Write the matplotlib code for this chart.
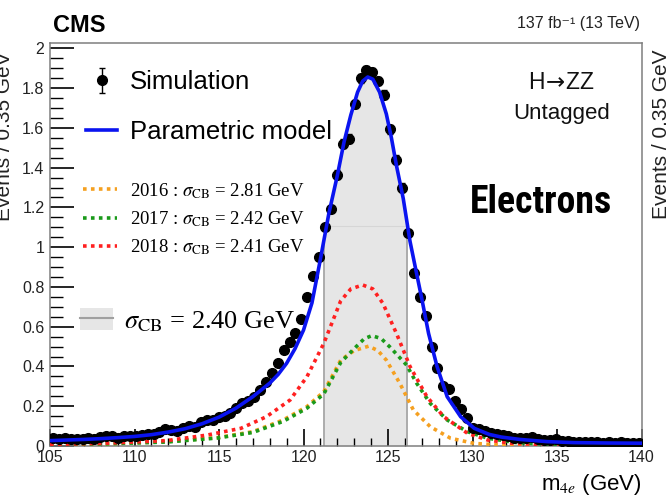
import numpy as np
import matplotlib.pyplot as plt
from matplotlib import font_manager
from matplotlib.lines import Line2D
from matplotlib.patches import Patch
from matplotlib.ticker import MultipleLocator, AutoMinorLocator

plt.rcParams['font.family'] = ['Liberation Sans', 'DejaVu Sans']
plt.rcParams['mathtext.fontset'] = 'stix'

# simulated events per 0.35 GeV bin, 105-140 GeV
sim_y = [0.040, 0.035, 0.040, 0.033, 0.035, 0.037, 0.038, 0.036, 0.045, 0.050,
         0.050, 0.042, 0.048, 0.050, 0.052, 0.056, 0.062, 0.058, 0.068, 0.083,
         0.078, 0.075, 0.090, 0.100, 0.098, 0.120, 0.130, 0.132, 0.145, 0.150,
         0.168, 0.190, 0.214, 0.226, 0.248, 0.280, 0.323, 0.368, 0.415, 0.482,
         0.524, 0.566, 0.640, 0.750, 0.854, 0.950, 1.100, 1.190, 1.365, 1.520,
         1.546, 1.720, 1.850, 1.890, 1.880, 1.836, 1.767, 1.593, 1.440, 1.300,
         1.070, 0.868, 0.747, 0.655, 0.499, 0.394, 0.301, 0.285, 0.226, 0.184,
         0.139, 0.092, 0.084, 0.077, 0.066, 0.060, 0.055, 0.048, 0.040, 0.038,
         0.042, 0.047, 0.035, 0.030, 0.028, 0.033, 0.025, 0.023, 0.022, 0.020,
         0.021, 0.018, 0.020, 0.017, 0.019, 0.016, 0.018, 0.015, 0.016, 0.015]
sim_err = [0.005] * 20 + [0.007] * 15 + [0.010] * 8 + [0.015] * 5 + [0.022] * 12 + \
          [0.015] * 5 + [0.010] * 5 + [0.006] * 10 + [0.004] * 20
bin_edges = np.arange(105, 140.001, 0.35)
mass = 0.5 * (bin_edges[:-1] + bin_edges[1:])

# parametric model
model_x = [105.0, 106.0, 107.0, 108.0, 109.0, 110.0, 111.0, 112.0, 113.0, 114.0,
           115.0, 116.0, 117.0, 118.0, 118.5, 119.0, 119.5, 120.0, 120.5, 121.0,
           121.5, 122.0, 122.4, 122.8, 123.2, 123.5, 123.8, 124.1, 124.5, 124.9,
           125.2, 125.5, 125.9, 126.3, 126.6, 127.0, 127.4, 127.9, 128.5, 129.3,
           130.1, 130.5, 131.0, 131.7, 132.8, 134.4, 136.0, 138.0, 140.0]
model_y = [0.027, 0.030, 0.033, 0.037, 0.042, 0.048, 0.057, 0.070, 0.087, 0.112,
           0.145, 0.190, 0.248, 0.316, 0.360, 0.416, 0.490, 0.583, 0.720, 0.940,
           1.170, 1.360, 1.530, 1.665, 1.780, 1.835, 1.856, 1.845, 1.780, 1.670,
           1.550, 1.410, 1.245, 1.030, 0.905, 0.740, 0.566, 0.400, 0.248, 0.147,
           0.089, 0.075, 0.058, 0.045, 0.033, 0.022, 0.017, 0.015, 0.014]

# per-year components
red_x = [105.0, 108.0, 111.9, 114.3, 116.3, 117.8, 119.2, 120.2, 121.2, 122.2,
         122.8, 123.5, 124.1, 124.7, 125.5, 126.3, 127.3, 128.3, 129.7, 130.9,
         132.4, 135.0, 140.0]
red_y = [0.008, 0.013, 0.027, 0.055, 0.089, 0.147, 0.231, 0.348, 0.516, 0.730,
         0.790, 0.810, 0.790, 0.717, 0.566, 0.400, 0.248, 0.147, 0.064, 0.030,
         0.013, 0.005, 0.002]
green_x = [105.0, 108.0, 111.9, 114.9, 117.0, 118.8, 120.2, 121.2, 122.2, 123.0,
           123.6, 124.05, 124.6, 125.1, 126.1, 126.7, 127.5, 128.5, 129.7, 130.9,
           132.6, 135.0, 140.0]
green_y = [0.006, 0.010, 0.020, 0.040, 0.068, 0.124, 0.190, 0.262, 0.420, 0.490,
           0.540, 0.555, 0.540, 0.499, 0.407, 0.315, 0.214, 0.131, 0.072, 0.039,
           0.017, 0.006, 0.002]
orange_x = [105.0, 108.0, 111.9, 114.9, 117.0, 118.8, 120.2, 121.2, 122.2, 123.0,
            123.85, 124.4, 124.9, 125.7, 126.5, 127.5, 128.7, 130.1, 131.6, 135.0,
            140.0]
orange_y = [0.006, 0.010, 0.022, 0.042, 0.072, 0.131, 0.198, 0.273, 0.432, 0.480,
            0.502, 0.480, 0.432, 0.315, 0.181, 0.097, 0.039, 0.013, 0.005, 0.002,
            0.001]

band_lo, band_hi = 121.22, 126.12
band_line = 1.107


def narrow_font():
    # pick a condensed bold face if one is installed
    for fam in ['Liberation Sans Narrow', 'Roboto Condensed', 'Open Sans Condensed',
                'DejaVu Sans Condensed', 'Noto Sans Condensed']:
        try:
            font_manager.findfont(font_manager.FontProperties(family=fam, weight='bold'),
                                  fallback_to_default=False)
            return {'family': fam, 'stretch': 'normal'}
        except ValueError:
            pass
    for fam in ['DejaVu Sans', 'Noto Sans', 'Open Sans', 'Roboto']:
        p = font_manager.findfont(font_manager.FontProperties(
            family=fam, weight='bold', stretch='condensed'))
        if 'ondensed' in p or 'arrow' in p:
            return {'family': fam, 'stretch': 'condensed'}
    return {'family': 'Roboto', 'stretch': 'normal'}


fig = plt.figure(figsize=(6.67, 5.04), dpi=100)
ax = fig.add_axes([0.075, 0.1151, 0.8868, 0.7996])

# grey band under the model
bx = np.concatenate([[band_lo], [v for v in model_x if band_lo < v < band_hi], [band_hi]])
by = np.interp(bx, model_x, model_y)
ax.fill_between(bx, 0, by, color='#e6e6e6', lw=0, zorder=1)
ax.plot([band_lo, band_lo], [0, by[0]], color='#a6a6a6', lw=1.3, zorder=2)
ax.plot([band_hi, band_hi], [0, by[-1]], color='#a6a6a6', lw=1.3, zorder=2)
ax.plot([band_lo, band_hi], [band_line, band_line], color='#d6d6d6', lw=0.8, zorder=2)

ax.plot(orange_x, orange_y, color='#f5a020', lw=2.6, ls=(0, (1, 1.2)), zorder=3)
ax.plot(green_x, green_y, color='#1a9a1a', lw=2.6, ls=(0, (1, 1.2)), zorder=3)
ax.plot(red_x, red_y, color='#ff2020', lw=2.6, ls=(0, (1, 1.2)), zorder=3)

sim = ax.errorbar(mass, sim_y, yerr=sim_err, fmt='o', color='black', ms=7,
                  elinewidth=1, capsize=2, zorder=4)
model, = ax.plot(model_x, model_y, color='#0a14f0', lw=2.6, zorder=5)

ax.set_xlim(105, 140)
ax.set_ylim(0, 2.027)
ax.xaxis.set_major_locator(MultipleLocator(5))
ax.xaxis.set_minor_locator(MultipleLocator(1))
ax.set_yticks([0, 0.2, 0.4, 0.6, 0.8, 1, 1.2, 1.4, 1.6, 1.8, 2])
ax.set_yticklabels(['0', '0.2', '0.4', '0.6', '0.8', '1', '1.2', '1.4', '1.6', '1.8', '2'])
ax.yaxis.set_minor_locator(AutoMinorLocator(4))
ax.tick_params(which='both', direction='in', top=False, right=False, labelsize=11.5,
               colors='black', labelcolor='#222222')
ax.tick_params(axis='y', which='major', length=17, width=1.2, pad=4)
ax.tick_params(axis='y', which='minor', length=9, width=1)
ax.tick_params(axis='x', which='major', length=12, width=1.2, pad=3)
ax.tick_params(axis='x', which='minor', length=6, width=1)
for s in ax.spines.values():
    s.set_color('#7f7f7f')
    s.set_linewidth(1.1)

ax.set_xlabel(r'm$_{4\mathit{e}}$ (GeV)', fontsize=16, loc='right', labelpad=5)

# legends
leg1 = ax.legend([sim, model], ['Simulation', 'Parametric model'],
                 loc='upper left', bbox_to_anchor=(0.061, 0.932), frameon=False,
                 fontsize=18.5, handlelength=1.2, handletextpad=0.5,
                 labelspacing=1.0, borderpad=0, borderaxespad=0)
ax.add_artist(leg1)
yr_handles = [Line2D([], [], color=c, lw=2.6, ls=(0, (1, 1.2)))
              for c in ['#f5a020', '#1a9a1a', '#ff2020']]
yr_labels = [r'2016 : $\sigma_{\mathrm{CB}}$ = 2.81 GeV',
             r'2017 : $\sigma_{\mathrm{CB}}$ = 2.42 GeV',
             r'2018 : $\sigma_{\mathrm{CB}}$ = 2.41 GeV']
leg2 = ax.legend(yr_handles, yr_labels, loc='upper left',
                 bbox_to_anchor=(0.0558, 0.658), frameon=False,
                 prop={'family': 'Liberation Serif', 'size': 13.5},
                 handlelength=1.8, handletextpad=0.7, labelspacing=0.46,
                 borderpad=0, borderaxespad=0)
ax.add_artist(leg2)
band_handle = (Patch(facecolor='#e6e6e6', edgecolor='none'),
               Line2D([], [], color='#a0a0a0', lw=1.5))
ax.legend([band_handle], [r'$\sigma_{\mathrm{CB}}$ = 2.40 GeV'], loc='upper left',
          bbox_to_anchor=(0.0507, 0.342), frameon=False,
          prop={'family': 'Liberation Serif', 'size': 19},
          handlelength=1.25, handleheight=0.9, handletextpad=0.4,
          borderpad=0, borderaxespad=0)

ax.text(0.865, 0.903, r'H$\!\rightarrow\!$ZZ', transform=ax.transAxes, ha='center',
        va='center', fontsize=16.5, color='#111111', math_fontfamily='dejavusans')
ax.text(0.865, 0.826, 'Untagged', transform=ax.transAxes, ha='center', va='center',
        fontsize=16, color='#111111')
nf = narrow_font()
elec = ax.text(0.83, 0.605, 'Electrons', transform=ax.transAxes, ha='center',
               va='center', fontsize=30, fontweight='bold', family=nf['family'],
               fontstretch=nf['stretch'])
# keep the label about as wide as in the reference (~140 px)
r = fig.canvas.get_renderer()
w = elec.get_window_extent(r).width
if w > 142:
    elec.set_fontsize(30 * 142 / w)

fig.text(53 / 667, 1 - 32 / 504, 'CMS', fontsize=17, fontweight='bold', ha='left',
         va='baseline')
fig.text(640 / 667, 1 - 28 / 504, '137 fb\u207b\u00b9 (13 TeV)', fontsize=11.5,
         ha='right', va='baseline', color='#222222')
fig.text(4.5 / 667, 1 - 136 / 504, 'Events / 0.35 GeV', rotation=90, fontsize=15,
         ha='center', va='center', color='#222222')
fig.text(661.5 / 667, 1 - 134 / 504, 'Events / 0.35 GeV', rotation=90, fontsize=15,
         ha='center', va='center', color='#222222')

fig.savefig('out.png', dpi=100)
